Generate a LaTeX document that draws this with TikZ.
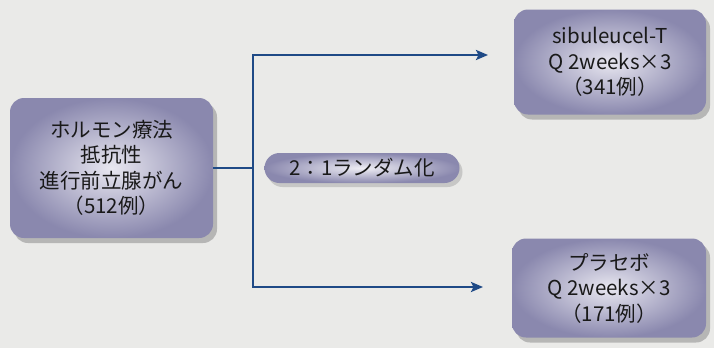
\documentclass[tikz,border=0pt]{standalone}
\usepackage{fontspec}
\setmainfont{Noto Sans CJK JP}
\usetikzlibrary{arrows.meta,shadows}
\definecolor{bgc}{HTML}{EAEAE8}
\definecolor{boxout}{HTML}{8A88AE}
\definecolor{boxin}{HTML}{E8E7F0}
\definecolor{linec}{HTML}{1F4A86}
\tikzset{
  box/.style={rounded corners=14pt, inner color=boxin, outer color=boxout,
    draw=none, align=center, font=\fontsize{20.5}{25.5}\selectfont, text=black!90,
    drop shadow={shadow xshift=4pt, shadow yshift=-5pt, fill=black!45, opacity=.55}},
  pill/.style={rounded corners=15pt, inner color=boxin!70!white, outer color=boxout,
    draw=none, font=\fontsize{20.5}{25}\selectfont, text=black!90,
    drop shadow={shadow xshift=3pt, shadow yshift=-4pt, fill=black!35, opacity=.5}},
  conn/.style={draw=linec, line width=2.6pt},
  arr/.style={conn, -{Stealth[length=12pt,width=10pt,inset=2.5pt]}}
}
\begin{document}
\begin{tikzpicture}[x=1pt,y=-1pt]
\fill[bgc] (0,0) rectangle (714,348);
\useasboundingbox (0,0) rectangle (714,348);
\node[box, minimum width=203pt, minimum height=140pt] (left) at (111.5,168)
  {ホルモン療法\\抵抗性\\進行前立腺がん\\（512例）};
\node[box, minimum width=192pt, minimum height=105pt] (top) at (610,62)
  {sibuleucel-T\\Q 2weeks×3\\（341例）};
\node[box, minimum width=194pt, minimum height=99pt] (bot) at (609,288)
  {プラセボ\\Q 2weeks×3\\（171例）};
\node[pill, minimum width=195pt, minimum height=30pt, inner sep=0pt] (rand) at (362,168)
  {2：1ランダム化};
\coordinate (jt) at (253,55);
\coordinate (jb) at (253,287);
\coordinate (tt) at (488,55);
\coordinate (tb) at (483,287);
\draw[conn] (left.east) -- (left.east -| jt);
\draw[conn, line cap=rect] (jt) -- (jb);
\draw[arr] (jt) -- (tt);
\draw[arr] (jb) -- (tb);
\end{tikzpicture}
\end{document}
